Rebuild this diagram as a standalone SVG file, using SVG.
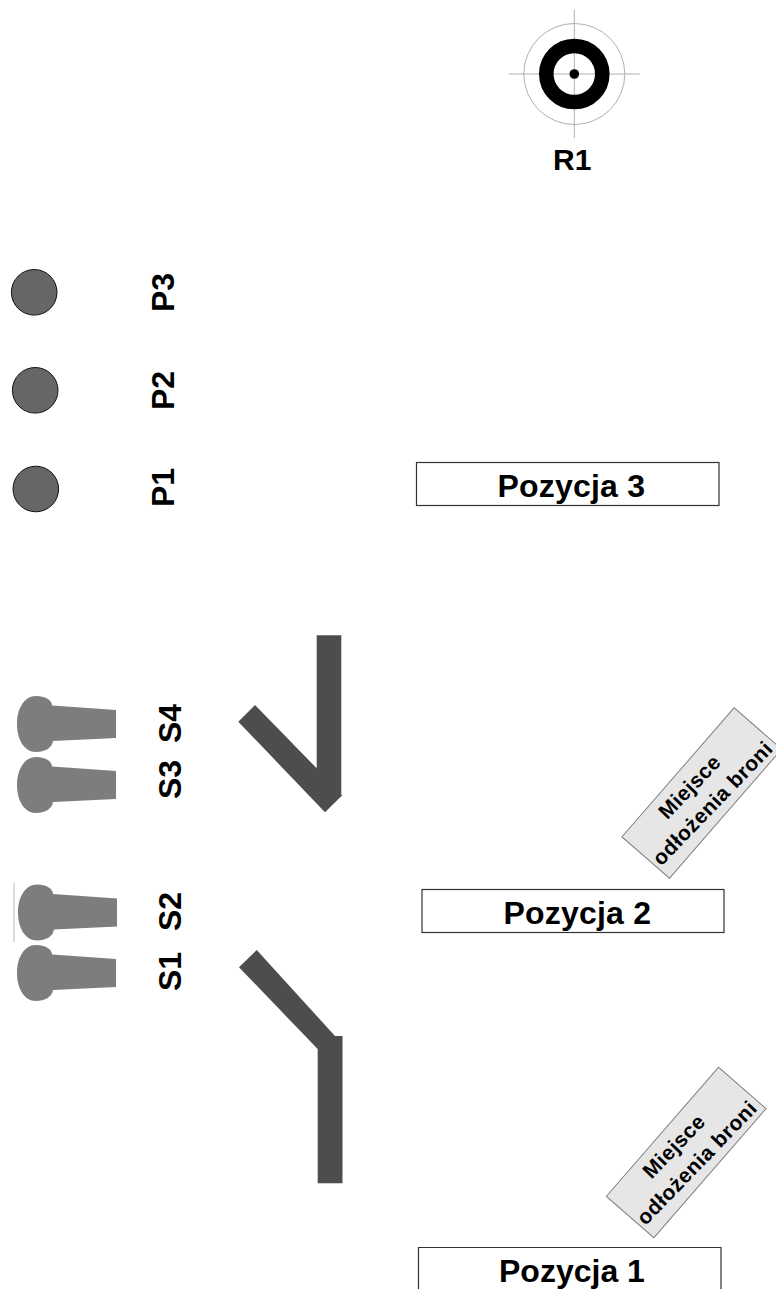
<svg xmlns="http://www.w3.org/2000/svg" width="776" height="1289" viewBox="0 0 776 1289">
<style>
text{font-family:"Liberation Sans",Arial,sans-serif;font-weight:bold;fill:#000}
.lbl{font-size:32px}
.tag{font-size:21px;text-anchor:middle;letter-spacing:0.500px}
.box{fill:#fff;stroke:#333;stroke-width:1.2}
.popper{fill:#666;stroke:#111;stroke-width:1}
.plate{fill:#7d7d7d}
.wall{fill:#4d4d4d}
.zone{fill:#e6e6e6;stroke:#808080;stroke-width:1}
.thin{fill:none;stroke:#b0b0b0;stroke-width:1}
</style>
<defs>
<filter id="soft" x="-10%" y="-10%" width="120%" height="120%"><feGaussianBlur stdDeviation="0.6"/></filter>
<path id="plateShape" class="plate" d="M52 -18.500 C52 -24 45 -28 36 -28 C24 -28 17 -15 17 0 C17 15 24 28 36 28 C45 28 52 24 53 17 L116 14 L116 -14 Z"/>
</defs>

<g id="R1">
<line class="thin" x1="509" y1="74" x2="640" y2="74"/>
<line class="thin" x1="574.300" y1="10" x2="574.300" y2="138"/>
<circle class="thin" cx="574.300" cy="74" r="50.500"/>
<circle cx="574.300" cy="74" r="28" fill="none" stroke="#000" stroke-width="14.600"/>
<circle cx="574.300" cy="74" r="4.800" fill="#000"/>
<text x="553" y="170" font-size="30px">R1</text>
</g>

<g id="P3"><circle class="popper" cx="34.200" cy="292.300" r="22.800"/><text class="lbl" transform="translate(174.300 312) rotate(-90)">P3</text></g>
<g id="P2"><circle class="popper" cx="35.200" cy="390.300" r="22.800"/><text class="lbl" transform="translate(174.300 410) rotate(-90)">P2</text></g>
<g id="P1"><circle class="popper" cx="35.800" cy="489" r="22.800"/><text class="lbl" transform="translate(174.300 507) rotate(-90)">P1</text></g>

<g id="Pozycja3"><rect class="box" x="416.500" y="462.500" width="302.500" height="43"/><text class="lbl" x="497.500" y="496.500" letter-spacing="0.200">Pozycja 3</text></g>
<g id="Pozycja2"><rect class="box" x="422" y="889.500" width="302" height="43"/><text class="lbl" x="503.500" y="923.500" letter-spacing="0.200">Pozycja 2</text></g>
<g id="Pozycja1"><path class="box" d="M418.500 1290V1247.500H721V1290"/><text class="lbl" x="499" y="1281.500">Pozycja 1</text></g>

<g id="S4"><use href="#plateShape" transform="translate(0 724)" filter="url(#soft)"/><text class="lbl" transform="translate(181 743) rotate(-90)">S4</text></g>
<g id="S3"><use href="#plateShape" transform="translate(0 785)" filter="url(#soft)"/><text class="lbl" transform="translate(181 799) rotate(-90)">S3</text></g>
<g id="S2"><line x1="14" y1="883" x2="14" y2="942" stroke="#bbb"/><use href="#plateShape" transform="translate(1 912.500)" filter="url(#soft)"/><text class="lbl" transform="translate(181 931) rotate(-90)">S2</text></g>
<g id="S1"><use href="#plateShape" transform="translate(0 973)" filter="url(#soft)"/><text class="lbl" transform="translate(181 991) rotate(-90)">S1</text></g>

<g id="wall-upper"><polygon class="wall" points="316.700,635.300 341.300,635.300 341.300,795 342.500,795 325,812.300 238.300,721.700 255,705 316.700,768.300"/></g>
<g id="wall-lower"><polygon class="wall" points="256.700,950 239,967.300 317.700,1049 317.700,1183.300 342.500,1183.300 342.500,1036 335,1036"/></g>

<g id="zone2">
<rect class="zone" x="-85.500" y="-31.500" width="171" height="63" transform="translate(701.800 793) rotate(-49)"/>
<text class="tag" transform="translate(701.800 793) rotate(-46)" x="-4" y="-6">Miejsce</text>
<text class="tag" transform="translate(701.800 793) rotate(-46)" x="0" y="22">odłożenia broni</text>
</g>
<g id="zone1">
<rect class="zone" x="-85.500" y="-31.500" width="171" height="63" transform="translate(686.200 1152.500) rotate(-49)"/>
<text class="tag" transform="translate(686.200 1152.500) rotate(-46)" x="-4" y="-6">Miejsce</text>
<text class="tag" transform="translate(686.200 1152.500) rotate(-46)" x="0" y="22">odłożenia broni</text>
</g>
<g id="connectors"/>
</svg>
